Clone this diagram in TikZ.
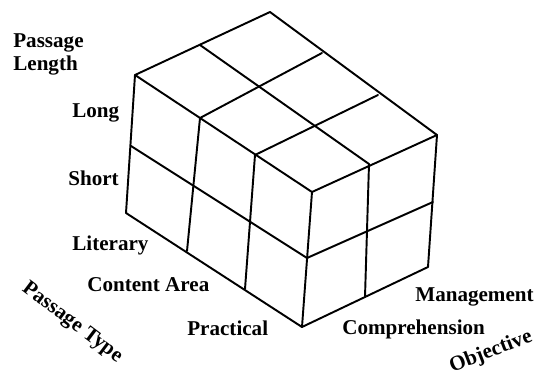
\documentclass[tikz,border=0pt]{standalone}
\usepackage{fontspec}
\setmainfont{Liberation Serif}
\begin{document}
\begin{tikzpicture}[x=0.02cm,y=-0.02cm,
  edge/.style={line width=1.1pt,line join=round,line cap=round},
  lbl/.style={font=\fontsize{12}{14}\selectfont\bfseries,inner sep=0pt,anchor=base west},
  axislbl/.style={font=\fontsize{12}{14}\selectfont\bfseries,inner sep=0pt}]
\useasboundingbox (0,0) rectangle (538,375);
% corners
\coordinate (A) at (135,75);
\coordinate (B) at (270,12);
\coordinate (C) at (437,135);
\coordinate (D) at (312,192);
\coordinate (Ab) at (126,213);
\coordinate (Db) at (302,327);
\coordinate (Cb) at (428,267);
% grid points
\coordinate (ABm) at (200,45);
\coordinate (DCm) at (369,164);
\coordinate (AD1) at (200,118);
\coordinate (AD2) at (255,155);
\coordinate (BC1) at (322,53);
\coordinate (BC2) at (378,95);
\coordinate (AbDb1) at (187,251);
\coordinate (AbDb2) at (245,289);
\coordinate (Am) at (131,146);
\coordinate (Dm) at (307,258);
\coordinate (Cm) at (433,202);
\coordinate (DbCbm) at (365,297);
% outline
\draw[edge] (A) -- (B) -- (C) -- (D) -- cycle;
\draw[edge] (A) -- (Ab) -- (Db) -- (Cb) -- (C);
\draw[edge] (D) -- (Db);
% top grid
\draw[edge] (ABm) -- (DCm);
\draw[edge] (AD1) -- (BC1);
\draw[edge] (AD2) -- (BC2);
% left face grid
\draw[edge] (AD1) -- (AbDb1);
\draw[edge] (AD2) -- (AbDb2);
\draw[edge] (Am) -- (Dm);
% right face grid
\draw[edge] (DCm) -- (DbCbm);
\draw[edge] (Dm) -- (Cm);
% labels
\node[lbl] (pl1) at (13,48) {Passage};
\node[lbl] (pl2) at (13,71) {Length};
\node[lbl] (long) at (72,118) {Long};
\node[lbl] (short) at (68,186) {Short};
\node[lbl] (lit) at (72,251) {Literary};
\node[lbl] (cont) at (87,291) {Content Area};
\node[lbl] (prac) at (187,335) {Practical};
\node[lbl] (mgmt) at (415,301) {Management};
\node[lbl] (comp) at (342,334) {Comprehension};
\node[axislbl,rotate=-37] (ptype) at (72,323) {Passage Type};
\node[axislbl,rotate=21] (obj) at (491,352) {Objective};
\end{tikzpicture}
\end{document}
